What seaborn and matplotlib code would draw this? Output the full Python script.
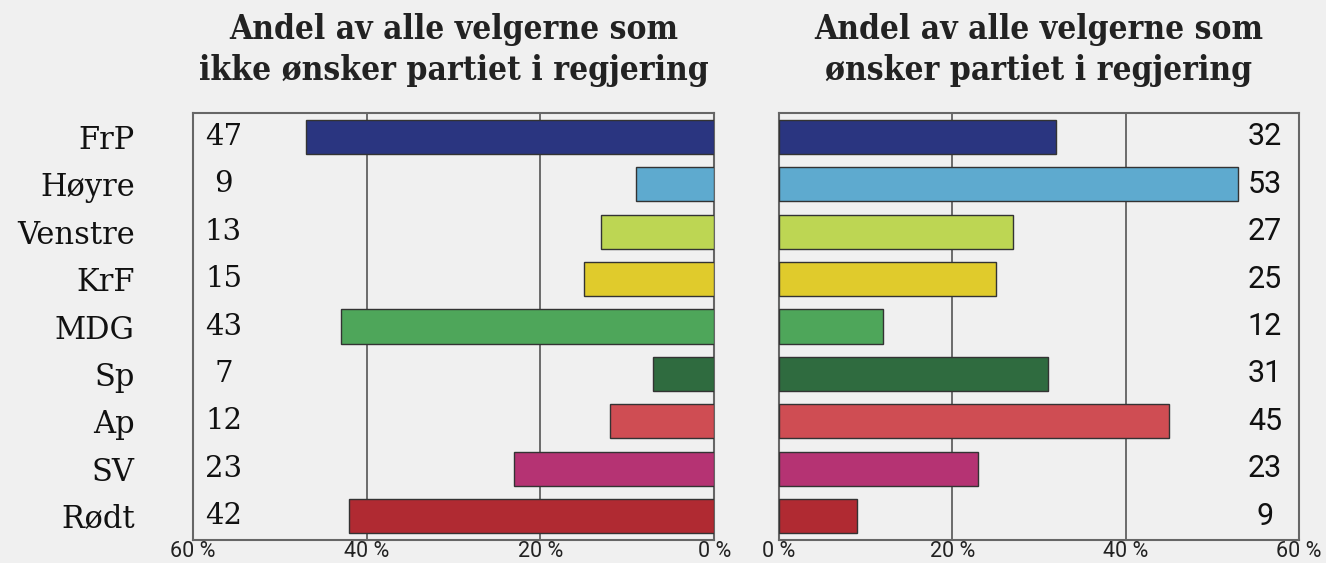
import numpy as np
import pandas as pd
import matplotlib
matplotlib.use("Agg")
import matplotlib.pyplot as plt
import seaborn as sns

# data
parties = ["FrP", "Høyre", "Venstre", "KrF", "MDG", "Sp", "Ap", "SV", "Rødt"]
not_wanted = [47, 9, 13, 15, 43, 7, 12, 23, 42]
wanted = [32, 53, 27, 25, 12, 31, 45, 23, 9]
colors = ["#2a3580", "#5eaacf", "#bdd653", "#e0cb2c", "#4ea65a",
          "#2f6b3f", "#cf4d53", "#b53373", "#b02a32"]
ticks = [0, 20, 40, 60]
titles = ["Andel av alle velgerne som\nikke ønsker partiet i regjering",
          "Andel av alle velgerne som\nønsker partiet i regjering"]

df = pd.DataFrame({"parti": parties, "ikke": not_wanted, "onsker": wanted})

bg = "#f0f0f0"
sns.set_style("white")
plt.rcParams["font.family"] = ["Roboto", "DejaVu Sans"]

fig = plt.figure(figsize=(13.26, 5.63), dpi=100, facecolor=bg)
ax1 = fig.add_axes([0.1456, 0.041, 0.393, 0.758])
ax2 = fig.add_axes([0.5875, 0.041, 0.392, 0.758])

palette = dict(zip(parties, colors))
serif = "DejaVu Serif"

for ax, col, title in [(ax1, "ikke", titles[0]), (ax2, "onsker", titles[1])]:
    ax.set_facecolor(bg)
    sns.barplot(data=df, x=col, y="parti", hue="parti", palette=palette,
                orient="h", width=0.72, edgecolor="#333333", linewidth=1,
                saturation=1, legend=False, ax=ax, zorder=3)
    ax.set_xlim(0, 60)
    ax.set_xticks(ticks)
    ax.set_xticklabels([f"{t} %" for t in ticks], fontsize=15.5, color="#222222")
    ax.grid(axis="x", color="#555555", linewidth=1.2, zorder=0)
    ax.set_xlabel("")
    ax.set_ylabel("")
    ax.tick_params(axis="x", length=0, pad=1)
    ax.tick_params(axis="y", length=0)
    for s in ax.spines.values():
        s.set_color("#666666")
        s.set_linewidth(1.5)
    ax.set_title(title, fontsize=24, fontweight="bold", family=serif,
                 fontstretch="condensed", color="#222222", pad=24,
                 linespacing=1.3)

# left panel: reversed axis, party names at left
ax1.invert_xaxis()
ax1.set_yticks(range(len(parties)))
ax1.set_yticklabels(parties, family=serif, fontsize=22, color="#111111")
ax1.tick_params(axis="y", pad=42)
for i, v in enumerate(not_wanted):
    ax1.text(56.5, i, str(v), ha="center", va="center", fontsize=21,
             family=serif, color="#111111")

ax2.set_yticks([])
for i, v in enumerate(wanted):
    ax2.text(56.1, i, str(v), ha="center", va="center", fontsize=22,
             color="#111111")

fig.savefig("out.png", dpi=100, facecolor=bg)
